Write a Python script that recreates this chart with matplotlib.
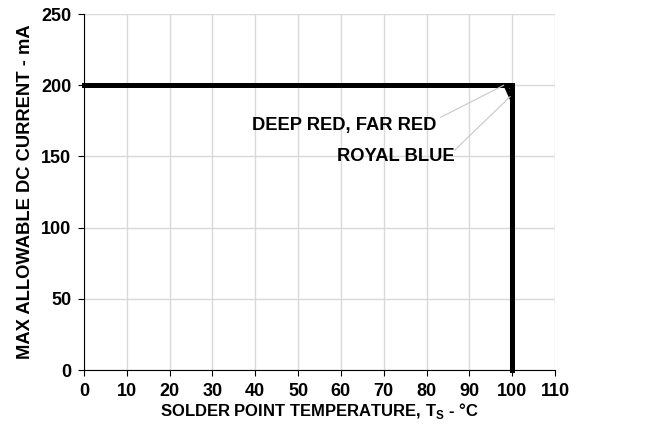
import numpy as np
import matplotlib
matplotlib.use('Agg')
import matplotlib.pyplot as plt

plt.rcParams['font.family'] = ['Liberation Sans', 'DejaVu Sans']
plt.rcParams['font.weight'] = 'bold'

# Derating curves (solder point temperature in C, current in mA)
red_temp = [0, 100, 100]
red_current = [200, 200, 0]
blue_temp = [0, 98.5, 100, 100]
blue_current = [200, 200, 190, 0]

x_ticks = [0, 10, 20, 30, 40, 50, 60, 70, 80, 90, 100, 110]
y_ticks = [0, 50, 100, 150, 200, 250]

fig = plt.figure(figsize=(6.65, 4.28), dpi=100)
ax = fig.add_axes([0.1263, 0.1355, 0.7083, 0.8315])

ax.plot(blue_temp, blue_current, color='black', lw=3.2, solid_joinstyle='miter')
ax.plot(red_temp, red_current, color='black', lw=3.6, solid_joinstyle='miter', clip_on=False)

# labels with leader lines
ax.plot([83.3, 98.0], [177.5, 200], color='#c8c8c8', lw=0.8)
ax.plot([86.6, 99.5], [154.5, 192], color='#c8c8c8', lw=0.8)
ax.text(82.3, 172, 'DEEP RED, FAR RED', ha='right', va='center', fontsize=13.2, fontweight='bold')
ax.text(86.6, 150, 'ROYAL BLUE', ha='right', va='center', fontsize=13.2, fontweight='bold')

ax.set_xlim(0, 110)
ax.set_ylim(0, 250)
ax.set_xticks(x_ticks)
ax.set_yticks(y_ticks)
ax.tick_params(labelsize=13, length=4, width=0.8, pad=5)
for lab in ax.get_xticklabels() + ax.get_yticklabels():
    lab.set_fontweight('bold')

ax.grid(True, color='#d9d9d9', lw=1.0)
ax.set_axisbelow(True)
ax.spines['top'].set_visible(False)
ax.spines['right'].set_visible(False)

ax.set_xlabel(r'SOLDER POINT TEMPERATURE, T$_{\mathregular{S}}$ - °C', fontsize=12, fontweight='bold', labelpad=1)
ax.set_ylabel('MAX ALLOWABLE DC CURRENT - mA', fontsize=13.2, fontweight='bold', labelpad=5)

fig.savefig('out.png', dpi=100)
